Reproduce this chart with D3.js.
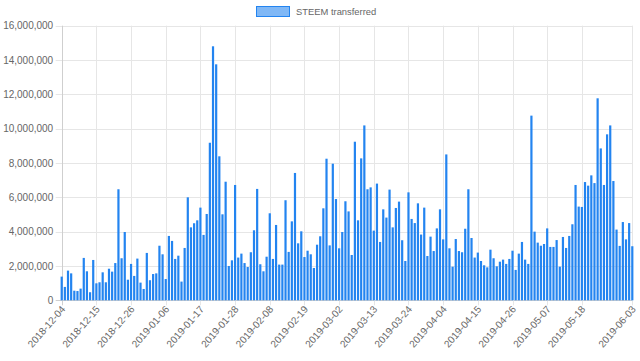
<!DOCTYPE html>
<html><head><meta charset="utf-8">
<script src="https://cdn.jsdelivr.net/npm/d3@7"></script>
<style>html,body{margin:0;padding:0;background:#fff;overflow:hidden}
text{font-family:"Liberation Sans",Arial,sans-serif}</style>
</head><body><svg id="c" width="640" height="361"></svg>
<script>
const startDate = "2018-12-04";
const endDate = "2019-06-03";
const seriesName = "STEEM transferred";
const steemTransferred = [
 1380000, 780000, 1730000, 1570000, 560000, 540000, 680000, 2470000, 1690000, 470000,
 2350000, 990000, 1050000, 1630000, 1050000, 1840000, 1670000, 2170000, 6470000, 2450000,
 3980000, 1200000, 2120000, 1420000, 2430000, 1030000, 660000, 2760000, 1170000, 1530000,
 1570000, 3180000, 2680000, 1240000, 3750000, 3460000, 2410000, 2600000, 1090000, 3050000,
 6000000, 4250000, 4490000, 4660000, 5400000, 3810000, 5030000, 9180000, 14800000, 13750000,
 8390000, 5010000, 6910000, 2000000, 2330000, 6720000, 2490000, 2720000, 2170000, 1940000,
 2800000, 4080000, 6490000, 2100000, 1690000, 2540000, 5070000, 2410000, 4390000, 2080000,
 2080000, 5830000, 2820000, 4600000, 7420000, 3320000, 4020000, 2520000, 2890000, 2680000,
 1880000, 3240000, 3730000, 5360000, 8250000, 3200000, 7960000, 5900000, 3030000, 3980000,
 5770000, 5180000, 2640000, 9240000, 4660000, 8270000, 10190000, 6470000, 6580000, 4060000,
 6800000, 3400000, 5300000, 4820000, 6450000, 4250000, 5380000, 5750000, 3500000, 2290000,
 6290000, 4740000, 4500000, 5650000, 3830000, 5400000, 2580000, 3710000, 2870000, 4190000,
 5300000, 3550000, 8500000, 3030000, 1960000, 3570000, 2870000, 2800000, 4170000, 6470000,
 3630000, 2490000, 2780000, 2290000, 2040000, 1920000, 2950000, 2450000, 1980000, 2250000,
 2370000, 2120000, 2410000, 2890000, 1770000, 2720000, 3400000, 2370000, 2120000, 10760000,
 4000000, 3360000, 3180000, 3280000, 4190000, 3110000, 3110000, 3510000, 1960000, 3690000,
 3050000, 3750000, 4430000, 6720000, 5460000, 5440000, 6890000, 6680000, 7280000, 6830000,
 11770000, 8850000, 6720000, 9670000, 10190000, 6950000, 4120000, 3170000, 4560000, 3550000,
 4500000, 3150000
];
const xTickLabels = ["2018-12-04","2018-12-15","2018-12-26","2019-01-06","2019-01-17","2019-01-28",
 "2019-02-08","2019-02-19","2019-03-02","2019-03-13","2019-03-24","2019-04-04","2019-04-15",
 "2019-04-26","2019-05-07","2019-05-18","2019-06-03"];
const yTicks = [0, 2000000, 4000000, 6000000, 8000000, 10000000, 12000000, 14000000, 16000000];

const parse = d3.utcParse("%Y-%m-%d");
const fmtDate = d3.utcFormat("%Y-%m-%d");
const dates = d3.utcDay.range(parse(startDate), d3.utcDay.offset(parse(endDate), 1));
const data = dates.map((d, i) => ({date: d, value: steemTransferred[i]}));

const svg = d3.select("#c");
const L = 61.7, R = 632.3, T = 25.7, B = 300.3;
const x = d3.scaleUtc().domain([parse(startDate), parse(endDate)]).range([L, R]);
const y = d3.scaleLinear().domain([0, 16000000]).range([B, T]);
const grid = "#e6e6e6", textCol = "#666";

// horizontal grid
svg.append("g").selectAll("line").data(yTicks).join("line")
  .attr("x1", L - 6).attr("x2", R).attr("y1", d => Math.round(y(d)) + 0.5).attr("y2", d => Math.round(y(d)) + 0.5)
  .attr("stroke", d => d === 0 ? "#cfcfcf" : grid).attr("stroke-width", 1);
// vertical grid
const tickDates = xTickLabels.map(parse);
svg.append("g").selectAll("line").data(tickDates).join("line")
  .attr("x1", d => Math.round(x(d)) + 0.5).attr("x2", d => Math.round(x(d)) + 0.5)
  .attr("y1", T).attr("y2", B + 5)
  .attr("stroke", (d, i) => i === 0 ? "#cfcfcf" : grid).attr("stroke-width", 1);

// y axis labels
const yAxis = svg.append("g").attr("transform", `translate(${L},0)`)
  .call(d3.axisLeft(y).tickValues(yTicks).tickFormat(d3.format(",")).tickSize(0).tickPadding(8.5));
yAxis.select(".domain").remove();
yAxis.selectAll("text").attr("fill", textCol).style("font-size", "10px");

// x axis labels
const xAxis = svg.append("g").attr("transform", `translate(0,${B})`)
  .call(d3.axisBottom(x).tickValues(tickDates).tickFormat(fmtDate).tickSize(0));
xAxis.select(".domain").remove();
xAxis.selectAll("text").attr("fill", textCol).style("font-size", "10px")
  .attr("y", 0).attr("dy", "0.35em").attr("x", 0)
  .attr("transform", "translate(1,7) rotate(-49)").style("text-anchor", "end");

// bars
const bw = 2.2;
svg.append("g").selectAll("rect").data(data).join("rect")
  .attr("x", d => x(d.date) - bw / 2).attr("width", bw)
  .attr("y", d => y(d.value)).attr("height", d => B - y(d.value))
  .attr("fill", "#2384f0");

// legend
const lg = svg.append("g");
lg.append("rect").attr("x", 256.5).attr("y", 6.5).attr("width", 33).attr("height", 10)
  .attr("fill", "#80b8f6").attr("stroke", "#2384f0").attr("stroke-width", 1);
lg.append("text").attr("x", 296).attr("y", 11.5).attr("dy", "0.35em")
  .attr("fill", textCol).style("font-size", "9.4px").text(seriesName);
</script></body></html>
